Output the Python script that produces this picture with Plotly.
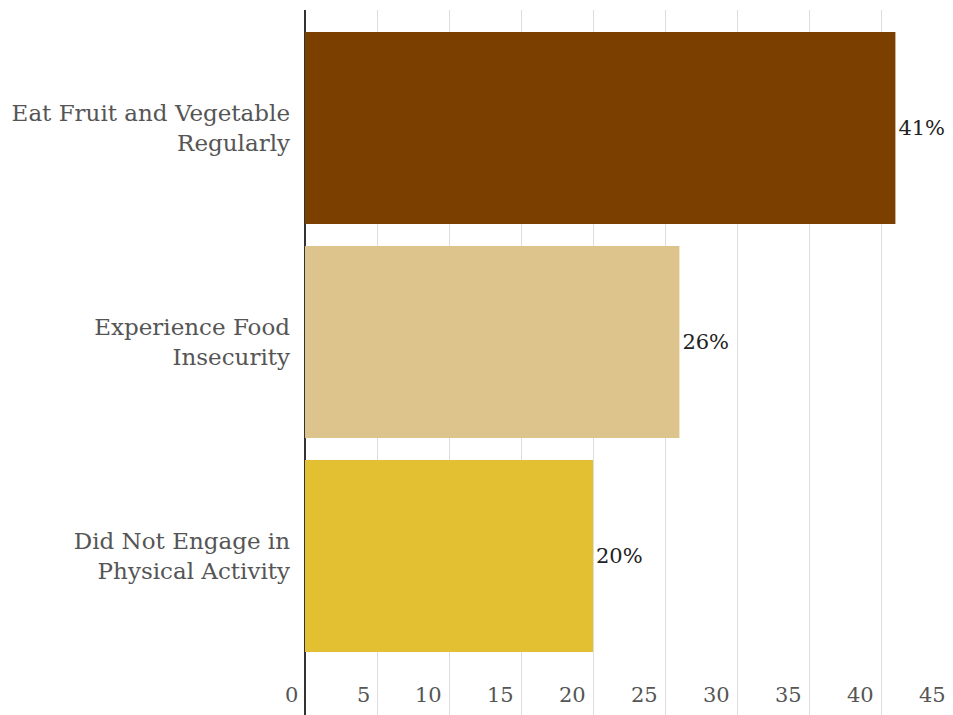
import plotly.graph_objects as go

categories = [
    "Eat Fruit and Vegetable<br>Regularly",
    "Experience Food<br>Insecurity",
    "Did Not Engage in<br>Physical Activity",
]
values = [41, 26, 20]
value_labels = ["41%", "26%", "20%"]
bar_colors = ["#7b3f00", "#ddc48c", "#e2c032"]
x_ticks = [0, 5, 10, 15, 20, 25, 30, 35, 40, 45]

FONT = "DejaVu Serif"

fig = go.Figure(
    go.Bar(
        x=values,
        y=categories,
        orientation="h",
        marker=dict(color=bar_colors, line=dict(width=0)),
        width=0.897,
        text=value_labels,
        textposition="outside",
        textfont=dict(family=FONT, size=21, color="#222222"),
        cliponaxis=False,
    )
)

fig.update_layout(
    width=953,
    height=715,
    margin=dict(l=305, r=0, t=10, b=0),
    paper_bgcolor="white",
    plot_bgcolor="white",
    showlegend=False,
    font=dict(family=FONT),
)

fig.update_xaxes(
    range=[0, 45],
    tickvals=x_ticks,
    showticklabels=False,
    showgrid=True,
    gridcolor="#dddddd",
    gridwidth=1,
    zeroline=True,
    zerolinecolor="#333333",
    zerolinewidth=2,
    showline=False,
    ticks="",
)

# x tick labels sit just left of each gridline, above the bottom edge
for t in x_ticks:
    fig.add_annotation(
        x=t,
        y=0,
        xref="x",
        yref="paper",
        text=str(t),
        showarrow=False,
        xanchor="right",
        yanchor="bottom",
        xshift=-5,
        yshift=6,
        font=dict(family=FONT, size=21, color="#555555"),
    )

fig.update_yaxes(
    range=[2.743, -0.551],
    tickfont=dict(family=FONT, size=23, color="#555555"),
    ticks="",
    ticklabelstandoff=14,
    showgrid=False,
    showline=False,
)

fig.write_html("out.html")
